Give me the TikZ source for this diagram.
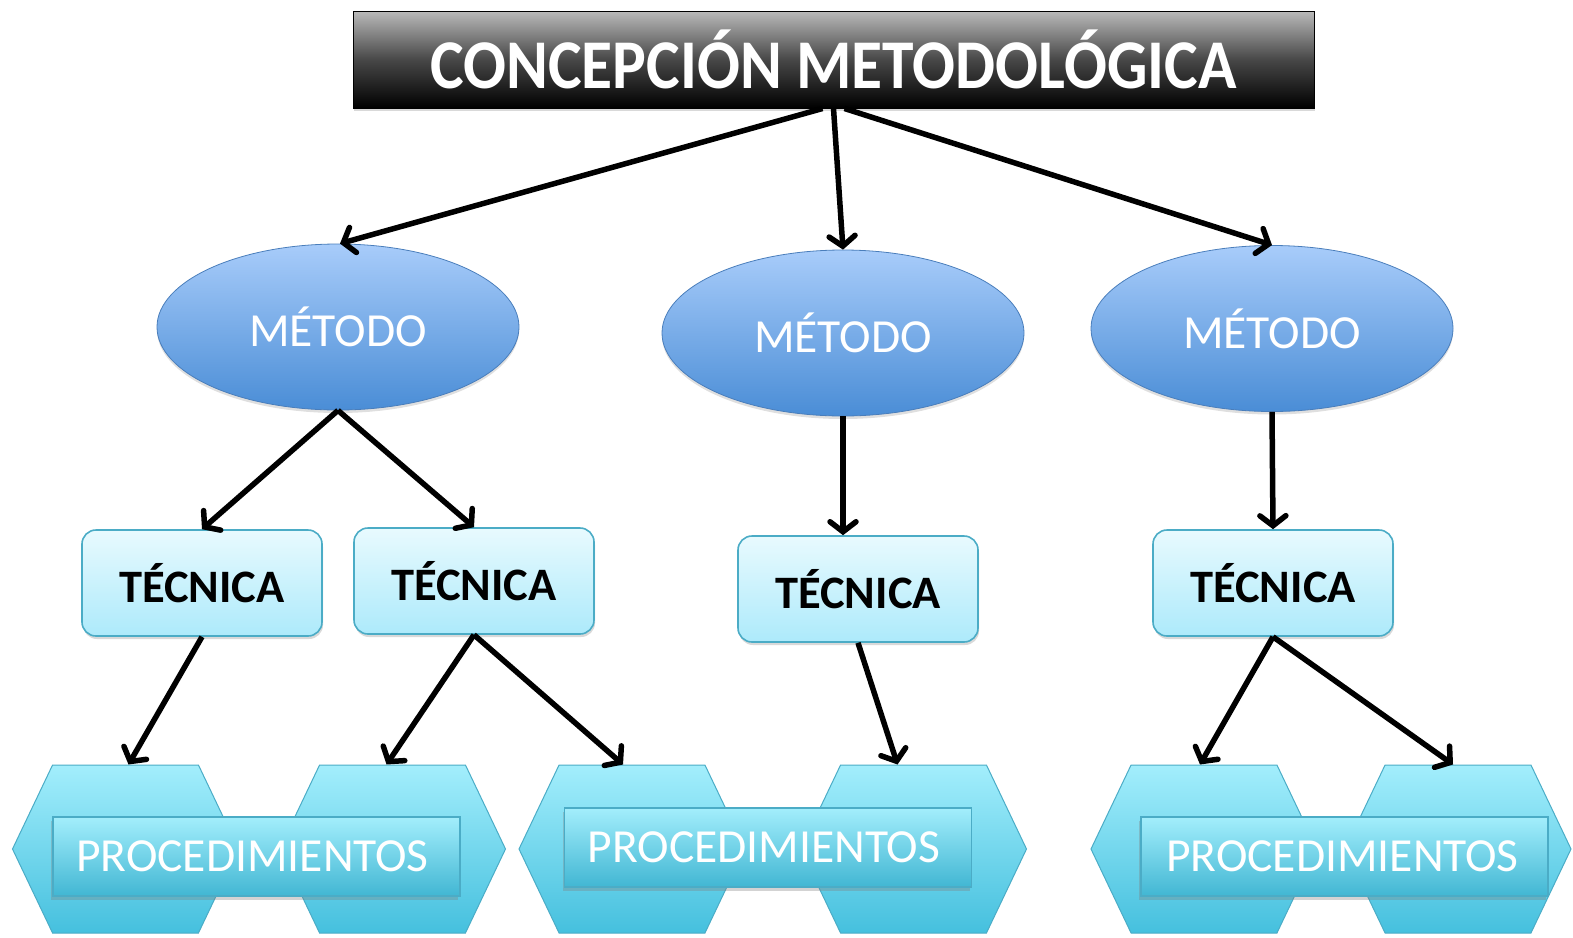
\documentclass[tikz,border=0pt]{standalone}
\usepackage{fontspec}
\setmainfont{Carlito}
\usetikzlibrary{shapes.geometric,shapes.symbols,shadows,arrows.meta}
\definecolor{elTop}{HTML}{A8CCFA}
\definecolor{elBot}{HTML}{4A8DD6}
\definecolor{elLine}{HTML}{4A7EBB}
\definecolor{teTop}{HTML}{E8FAFE}
\definecolor{teBot}{HTML}{ADEAFB}
\definecolor{cyLine}{HTML}{4BACC6}
\definecolor{hxTop}{HTML}{A3EEFC}
\definecolor{hxBot}{HTML}{45C0DE}
\begin{document}
\begin{tikzpicture}[x=1pt,y=-1pt,
  titlebox/.style={rectangle, draw=black, line width=1pt, minimum width=961pt, minimum height=97pt,
    top color=black!27, bottom color=black, middle color=black!72, inner sep=0pt,
    text=white, font=\bfseries\fontsize{63.5}{66}\selectfont,
    drop shadow={shadow xshift=1pt,shadow yshift=-3pt,opacity=0.3}},
  metodo/.style={ellipse, draw=elLine, line width=0.8pt, minimum width=362pt, minimum height=166pt,
    top color=elTop, bottom color=elBot, inner sep=0pt, text=white,
    font=\fontsize{47.5}{50}\selectfont,
    drop shadow={shadow xshift=0pt,shadow yshift=-3pt,opacity=0.25}},
  tecnica/.style={rectangle, rounded corners=14pt, draw=cyLine, line width=1.6pt,
    minimum width=240pt, minimum height=106pt, top color=teTop, bottom color=teBot,
    inner sep=0pt, font=\bfseries\fontsize{46.5}{50}\selectfont,
    drop shadow={shadow xshift=1pt,shadow yshift=-3pt,opacity=0.3}},
  hexa/.style={signal, signal to=west and east, signal pointer angle=129,
    draw=cyLine, line width=1pt, minimum width=226pt, minimum height=168pt,
    inner sep=0pt, top color=hxTop, bottom color=hxBot},
  procbox/.style={rectangle, draw=cyLine, line width=1.2pt, minimum width=407pt, minimum height=79pt,
    top color=hxTop, bottom color=hxBot!95!black, inner sep=0pt, text=white,
    font=\fontsize{47.5}{50}\selectfont,
    drop shadow={shadow xshift=-2pt,shadow yshift=-4pt,opacity=0.35}},
  conn/.style={line width=5.5pt, -{Straight Barb[length=10pt,width=26pt,line cap=round]}}
  ]
\useasboundingbox (0,0) rectangle (1573,937);

\node[titlebox] (title) at (833.5,59.5) {\scalebox{1}[1.1]{CONCEPCIÓN METODOLÓGICA}};

\node[metodo] (m1) at (338,327) {MÉTODO};
\node[metodo] (m2) at (843,333) {MÉTODO};
\node[metodo] (m3) at (1272,328.5) {MÉTODO};

\node[tecnica] (t1) at (202,583) {TÉCNICA};
\node[tecnica] (t2) at (474,581) {TÉCNICA};
\node[tecnica] (t3) at (858,589) {TÉCNICA};
\node[tecnica] (t4) at (1273,583) {TÉCNICA};

\node[hexa] (h1) at (125.5,849) {};
\node[hexa] (h2) at (392.5,849) {};
\node[hexa] (h3) at (632,849) {};
\node[hexa] (h4) at (913.5,849) {};
\node[hexa] (h5) at (1204,849) {};
\node[hexa] (h6) at (1458,849) {};

\node[procbox] (p1) at (256.5,856.5) {\hspace*{-8pt}PROCEDIMIENTOS};
\node[procbox] (p2) at (768,847.5) {\hspace*{-8pt}PROCEDIMIENTOS};
\node[procbox] (p3) at (1344.5,856.5) {\hspace*{-4pt}PROCEDIMIENTOS};

\draw[conn] ([xshift=-11pt]title.south) -- ([xshift=2pt]m1.north);
\draw[conn] (title.south) -- (m2.north);
\draw[conn] ([xshift=11pt]title.south) -- (m3.north);

\draw[conn] (m1.south) -- (t1.north);
\draw[conn] (m1.south) -- (t2.north);
\draw[conn] (m2.south) -- ([xshift=-15pt]t3.north);
\draw[conn] (m3.south) -- (t4.north);

\draw[conn] (t1.south) -- ([xshift=3pt]h1.north);
\draw[conn] (t2.south) -- ([xshift=-6pt]h2.north);
\draw[conn] (t2.south) -- ([xshift=-9pt]h3.north);
\draw[conn] (t3.south) -- ([xshift=-16pt]h4.north);
\draw[conn] (t4.south) -- ([xshift=-4pt]h5.north);
\draw[conn] (t4.south) -- ([xshift=-5pt]h6.north);
\end{tikzpicture}
\end{document}
